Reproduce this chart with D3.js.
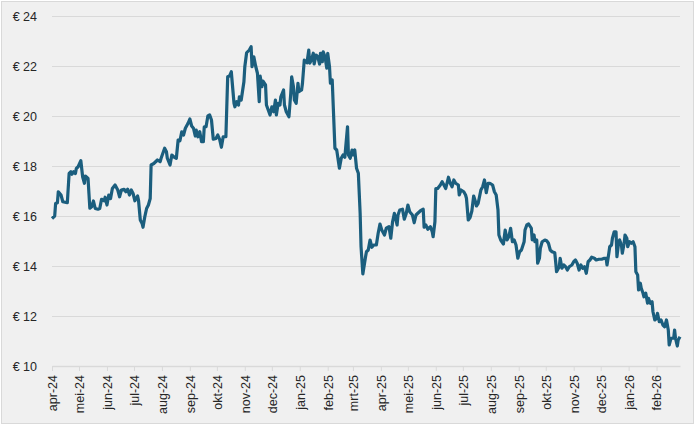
<!DOCTYPE html>
<meta charset="utf-8">
<script src="https://d3js.org/d3.v7.min.js"></script>

<style>
body {
  margin: 0;
  background: #fff;
}
svg {
  display: block;
  font-family: 'Liberation Sans', Arial, sans-serif;
}
text {
  font-size: 12.5px;
  fill: #262626;
}
.axis line, .axis path {
  stroke: #d9d9d9;
}
.price {
  fill: none;
  stroke: #1b5e7e;
  stroke-width: 3.2;
  stroke-linejoin: round;
}
</style>

<svg width="697" height="425"></svg>

<script>
  const dates = [
    "2024-04-01","2024-04-04","2024-04-05","2024-04-07","2024-04-08","2024-04-11","2024-04-13","2024-04-18","2024-04-20","2024-04-22","2024-04-23","2024-04-25","2024-04-27","2024-04-28","2024-04-30",
    "2024-05-03","2024-05-05","2024-05-07","2024-05-08","2024-05-11","2024-05-12","2024-05-13","2024-05-15","2024-05-17","2024-05-19","2024-05-22","2024-05-24","2024-05-26","2024-05-29","2024-05-30",
    "2024-06-01","2024-06-03","2024-06-05","2024-06-07","2024-06-10","2024-06-13","2024-06-15","2024-06-17","2024-06-20","2024-06-22","2024-06-24","2024-06-26","2024-06-28","2024-06-30",
    "2024-07-02","2024-07-05","2024-07-06","2024-07-08","2024-07-10","2024-07-11","2024-07-13","2024-07-15","2024-07-17","2024-07-19","2024-07-20","2024-07-23","2024-07-27","2024-07-30","2024-07-31",
    "2024-08-04","2024-08-06","2024-08-07","2024-08-10","2024-08-12","2024-08-14","2024-08-17","2024-08-19","2024-08-21","2024-08-23","2024-08-25","2024-08-27","2024-08-30",
    "2024-09-01","2024-09-03","2024-09-05","2024-09-07","2024-09-08","2024-09-10","2024-09-12","2024-09-14","2024-09-16","2024-09-17","2024-09-19","2024-09-21","2024-09-23","2024-09-25","2024-09-27","2024-09-30",
    "2024-10-02","2024-10-04","2024-10-06","2024-10-08","2024-10-11","2024-10-13","2024-10-15","2024-10-17","2024-10-20","2024-10-21","2024-10-23","2024-10-25","2024-10-26","2024-10-28","2024-10-31",
    "2024-11-01","2024-11-03","2024-11-06","2024-11-08","2024-11-09","2024-11-11","2024-11-13","2024-11-15","2024-11-17","2024-11-18","2024-11-20","2024-11-21","2024-11-24","2024-11-25","2024-11-27","2024-11-29",
    "2024-12-01","2024-12-03","2024-12-05","2024-12-06","2024-12-08","2024-12-10","2024-12-11","2024-12-14","2024-12-15","2024-12-17","2024-12-20","2024-12-22","2024-12-23","2024-12-25","2024-12-26","2024-12-28","2024-12-30","2024-12-31",
    "2025-01-03","2025-01-04","2025-01-06","2025-01-09","2025-01-11","2025-01-12","2025-01-14","2025-01-16","2025-01-17","2025-01-19","2025-01-21","2025-01-23","2025-01-24","2025-01-26","2025-01-27","2025-01-29","2025-01-31",
    "2025-02-01","2025-02-03","2025-02-04","2025-02-06","2025-02-09","2025-02-11","2025-02-14","2025-02-16","2025-02-18","2025-02-20","2025-02-23","2025-02-24","2025-02-26","2025-02-28",
    "2025-03-01","2025-03-03","2025-03-05","2025-03-07","2025-03-09","2025-03-10","2025-03-12","2025-03-15","2025-03-16","2025-03-18","2025-03-20","2025-03-22","2025-03-24","2025-03-27","2025-03-29","2025-03-31",
    "2025-04-02","2025-04-05","2025-04-07","2025-04-10","2025-04-12","2025-04-14","2025-04-16","2025-04-19","2025-04-20","2025-04-22","2025-04-25","2025-04-27","2025-04-29",
    "2025-05-01","2025-05-03","2025-05-06","2025-05-08","2025-05-10","2025-05-12","2025-05-15","2025-05-18","2025-05-19","2025-05-21","2025-05-23","2025-05-26","2025-05-28","2025-05-29","2025-05-31",
    "2025-06-01","2025-06-03","2025-06-06","2025-06-08","2025-06-10","2025-06-12","2025-06-15","2025-06-17","2025-06-19","2025-06-21","2025-06-23","2025-06-26","2025-06-27","2025-06-29",
    "2025-07-02","2025-07-04","2025-07-05","2025-07-07","2025-07-09","2025-07-11","2025-07-13","2025-07-15","2025-07-16","2025-07-18","2025-07-21","2025-07-23","2025-07-25","2025-07-27","2025-07-29","2025-07-31",
    "2025-08-03","2025-08-05","2025-08-07","2025-08-09","2025-08-10","2025-08-12","2025-08-15","2025-08-17","2025-08-19","2025-08-21","2025-08-23","2025-08-25","2025-08-27","2025-08-29","2025-08-31",
    "2025-09-02","2025-09-04","2025-09-07","2025-09-08","2025-09-10","2025-09-12","2025-09-15","2025-09-16","2025-09-18","2025-09-19","2025-09-21","2025-09-22","2025-09-24","2025-09-25","2025-09-27","2025-09-30",
    "2025-10-02","2025-10-04","2025-10-06","2025-10-08","2025-10-11","2025-10-12","2025-10-13","2025-10-16","2025-10-17","2025-10-19","2025-10-21","2025-10-23","2025-10-25","2025-10-27","2025-10-30",
    "2025-11-01","2025-11-03","2025-11-05","2025-11-07","2025-11-09","2025-11-11","2025-11-13","2025-11-15","2025-11-17","2025-11-19","2025-11-21","2025-11-24","2025-11-26","2025-11-29",
    "2025-12-02","2025-12-05","2025-12-07","2025-12-08","2025-12-10","2025-12-11","2025-12-13","2025-12-14","2025-12-16","2025-12-18","2025-12-19","2025-12-21","2025-12-22","2025-12-24","2025-12-25","2025-12-27","2025-12-28","2025-12-30","2025-12-31",
    "2026-01-02","2026-01-04","2026-01-06","2026-01-08","2026-01-09","2026-01-11","2026-01-12","2026-01-14","2026-01-15","2026-01-17","2026-01-18","2026-01-20","2026-01-22","2026-01-23","2026-01-25","2026-01-27","2026-01-28","2026-01-30",
    "2026-02-01","2026-02-02","2026-02-04","2026-02-06","2026-02-08","2026-02-10","2026-02-12","2026-02-14","2026-02-15","2026-02-17","2026-02-20","2026-02-21","2026-02-22","2026-02-24","2026-02-25","2026-02-27"
  ];

  const prices = [
    15.9,16.0,16.5,16.53,16.97,16.84,16.57,16.53,17.7,17.77,17.67,17.77,17.7,17.9,17.97,
    18.21,17.57,17.31,17.6,17.5,16.9,16.31,16.37,16.6,16.3,16.27,16.3,16.67,16.61,16.75,
    16.44,16.84,16.7,17.1,17.24,17.04,16.77,17.04,17.07,16.97,17.07,16.84,17.04,16.9,
    16.61,16.8,16.64,15.84,15.7,15.55,15.97,16.3,16.44,16.7,18.04,18.1,18.24,18.17,18.3,
    18.71,18.57,18.31,18.04,18.44,18.37,18.31,19.04,19.01,19.37,19.24,19.51,19.71,
    19.88,19.6,19.51,19.2,19.44,19.17,19.37,18.97,18.97,19.57,19.57,20.0,20.04,19.84,19.07,19.1,
    19.24,19.07,18.75,19.17,19.17,21.57,21.6,21.77,20.51,20.37,20.57,20.44,20.77,20.64,21.37,
    21.97,22.53,22.64,22.77,21.97,22.37,22.0,21.71,20.57,21.6,21.17,21.4,21.24,20.44,20.24,20.04,
    20.37,20.17,20.64,20.04,20.51,20.44,20.77,21.04,20.44,20.17,19.97,20.91,21.57,21.17,20.64,20.51,21.31,20.97,
    21.04,21.31,22.24,22.13,22.64,22.11,22.24,22.51,22.08,22.44,22.37,22.08,22.51,22.17,22.57,22.37,21.91,
    22.51,21.97,21.31,21.44,18.71,18.64,17.91,18.31,18.44,18.35,19.57,18.44,18.31,18.64,
    18.44,18.64,17.91,17.71,16.11,14.77,13.68,14.37,14.57,14.64,15.04,14.75,14.84,14.84,15.31,15.68,
    15.44,15.24,15.51,15.57,15.11,15.77,16.11,15.64,16.04,16.24,16.27,15.87,16.08,
    16.44,16.17,16.04,15.73,16.04,16.11,16.21,16.27,15.55,15.64,15.47,15.57,15.37,15.17,15.77,
    17.1,17.1,17.24,17.37,17.24,17.1,17.55,17.31,17.17,17.44,17.31,17.24,16.84,17.04,
    16.97,16.84,16.71,15.84,15.94,16.2,16.8,16.57,16.4,16.51,17.04,17.17,17.44,16.93,17.31,17.31,
    17.24,16.97,16.84,16.24,15.24,15.04,14.88,15.44,15.04,15.17,15.51,14.97,15.04,14.84,14.31,
    14.57,14.64,14.97,15.44,15.64,15.68,15.51,15.04,15.24,14.97,15.04,14.11,14.31,14.71,14.97,15.04,
    15.01,14.91,14.64,14.57,14.53,14.17,13.77,13.97,14.31,13.91,14.04,13.97,13.84,13.97,14.04,
    14.17,14.24,14.1,13.84,14.04,13.91,13.97,13.71,14.17,14.24,14.35,14.31,14.24,14.27,
    14.27,14.31,14.31,14.04,14.51,14.77,14.84,15.11,15.37,15.37,14.37,14.97,15.04,14.84,14.51,14.91,15.24,15.11,14.77,
    14.97,14.91,14.97,14.77,13.77,13.64,13.04,13.31,13.11,12.91,12.77,12.91,12.51,12.71,12.51,12.57,12.17,11.84,
    11.91,12.11,11.77,11.84,11.64,11.57,11.84,11.44,10.84,11.11,11.11,11.44,11.11,10.8,11.04,11.17
  ];

  const yTicks = [10, 12, 14, 16, 18, 20, 22, 24];

  const monthLabels = [
    'apr-24','mei-24','jun-24','jul-24','aug-24','sep-24','okt-24','nov-24','dec-24',
    'jan-25','feb-25','mrt-25','apr-25','mei-25','jun-25','jul-25','aug-25','sep-25',
    'okt-25','nov-25','dec-25','jan-26','feb-26'
  ];

  const parse = d3.utcParse('%Y-%m-%d');
  const data = dates.map((d, i) => ({ date: parse(d), price: prices[i] }));

  const svg = d3.select('svg');

  svg.append('rect')
    .attr('x', 1.5)
    .attr('y', 1.5)
    .attr('width', 692)
    .attr('height', 422)
    .attr('fill', '#f0f0f0')
    .attr('stroke', '#d9d9d9');

  const plotLeft = 52, plotRight = 680, plotTop = 16, plotBottom = 366;

  const xScale = d3.scaleUtc()
    .domain([data[0].date, data[data.length - 1].date])
    .range([plotLeft, plotRight]);

  const yScale = d3.scaleLinear()
    .domain([10, 24])
    .range([plotBottom, plotTop]);

  const tickDates = d3.utcMonth.range(data[0].date, data[data.length - 1].date);

  // horizontal gridlines + y labels
  const yAxis = svg.append('g')
    .attr('class', 'axis')
    .attr('transform', `translate(${plotLeft},0)`)
    .call(d3.axisLeft(yScale)
      .tickValues(yTicks)
      .tickSize(-(plotRight - plotLeft))
      .tickPadding(15)
      .tickFormat(d => `€ ${d}`));

  yAxis.select('.domain').remove();
  yAxis.selectAll('text').style('font-size', '12.5px');

  // x axis with rotated month labels
  const xAxis = svg.append('g')
    .attr('class', 'axis')
    .attr('transform', `translate(0,${plotBottom})`)
    .call(d3.axisBottom(xScale)
      .tickValues(tickDates)
      .tickSize(5)
      .tickSizeOuter(0)
      .tickFormat((d, i) => monthLabels[i]));

  xAxis.select('.domain').attr('stroke-width', 1.5);

  xAxis.selectAll('text')
    .attr('transform', 'rotate(-90)')
    .attr('x', -9)
    .attr('y', 0)
    .attr('dy', '0.35em')
    .style('text-anchor', 'end')
    .style('font-size', '12.5px');

  const line = d3.line()
    .x(d => xScale(d.date))
    .y(d => yScale(d.price));

  svg.append('path')
    .datum(data)
    .attr('class', 'price')
    .attr('d', line);
</script>
